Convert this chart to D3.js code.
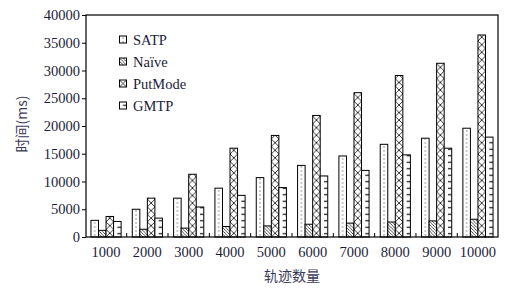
<!DOCTYPE html>
<html><head><meta charset="utf-8">
<script src="https://cdn.jsdelivr.net/npm/d3@7"></script>
<style>body{margin:0;background:#fff;} svg{display:block;}</style>
</head><body>
<script>
const categories = ["1000","2000","3000","4000","5000","6000","7000","8000","9000","10000"];
const seriesNames = ["SATP","Naïve","PutMode","GMTP"];
const satp    = [3000,5000,7000,8800,10700,12900,14600,16700,17800,19600];
const naive   = [1200,1400,1600,1900,2000,2300,2500,2700,2900,3200];
const putmode = [3700,7000,11300,16000,18300,21900,26000,29100,31300,36400];
const gmtp    = [2800,3400,5400,7500,8900,11000,12000,14800,16000,18000];
const yTicks  = [0,5000,10000,15000,20000,25000,30000,35000,40000];
const xLabel = "轨迹数量";
const yLabel = "时间(ms)";

const W = 508, H = 288;
const L = 86, R = 498, T = 15, B = 237;
const svg = d3.select("body").append("svg").attr("width", W).attr("height", H);
const defs = svg.append("defs");
const font = "'Liberation Serif','Times New Roman',serif";
const cjk = "'Noto Sans CJK SC','Liberation Serif',sans-serif";
const txtColor = "#1c1c3a";

const x0 = d3.scaleBand().domain(categories).range([L, R]).paddingInner(0.27).paddingOuter(0.12);
const x1 = d3.scaleBand().domain(seriesNames).range([0, x0.bandwidth()]);
const y = d3.scaleLinear().domain([0, 40000]).range([B, T]);

const allSeries = [satp, naive, putmode, gmtp];
const bars = [];
categories.forEach((c, i) => {
  seriesNames.forEach((s, k) => {
    bars.push({cat: c, ser: s, k, i, v: allSeries[k][i]});
  });
});

// pattern builder
function makePattern(id, k, px, py, w) {
  const p = defs.append("pattern").attr("id", id).attr("patternUnits", "userSpaceOnUse");
  if (k === 0) {
    p.attr("x", px).attr("y", py).attr("width", w).attr("height", 4);
    p.append("rect").attr("width", w).attr("height", 4).attr("fill", "#fff");
    p.append("rect").attr("x", w/2 - 0.5).attr("y", 1.5).attr("width", 1).attr("height", 1).attr("fill", "#333");
  } else if (k === 1) {
    const s = 3.2;
    p.attr("x", px).attr("y", py).attr("width", s).attr("height", s);
    p.append("rect").attr("width", s).attr("height", s).attr("fill", "#fff");
    p.append("path").attr("d", `M0,0L${s},${s}M${-s/2},${s/2}L${s/2},${s*1.5}M${s/2},${-s/2}L${s*1.5},${s/2}`)
      .attr("stroke", "#222").attr("stroke-width", 0.8);
  } else if (k === 2) {
    p.attr("x", px).attr("y", py).attr("width", w).attr("height", w);
    p.append("rect").attr("width", w).attr("height", w).attr("fill", "#fff");
    p.append("path").attr("d", `M0,0L${w},${w}M${w},0L0,${w}`)
      .attr("stroke", "#222").attr("stroke-width", 0.9);
  } else {
    const h = 6.5;
    p.attr("x", px).attr("y", py).attr("width", w).attr("height", h);
    p.append("rect").attr("width", w).attr("height", h).attr("fill", "#fff");
    p.append("line").attr("x1", w/2).attr("x2", w).attr("y1", h/2).attr("y2", h/2)
      .attr("stroke", "#111").attr("stroke-width", 1.2);
  }
}

bars.forEach(b => {
  b.x = x0(b.cat) + x1(b.ser);
  b.w = x1.bandwidth();
  b.id = `p${b.k}_${b.i}`;
  makePattern(b.id, b.k, b.x, B, b.w);
});

svg.append("g").selectAll("rect").data(bars).join("rect")
  .attr("x", d => d.x).attr("y", d => y(d.v))
  .attr("width", d => d.w).attr("height", d => B - y(d.v))
  .attr("fill", d => `url(#${d.id})`)
  .attr("stroke", "#000").attr("stroke-width", 1);

// frame
svg.append("rect").attr("x", L).attr("y", T).attr("width", R - L).attr("height", B - T)
  .attr("fill", "none").attr("stroke", "#000").attr("stroke-width", 1.2);

// y axis
const yAxis = svg.append("g").attr("transform", `translate(${L},0)`)
  .call(d3.axisLeft(y).tickValues(yTicks).tickSize(4).tickPadding(2).tickFormat(d3.format("d")));
yAxis.select(".domain").remove();
yAxis.selectAll("line").attr("stroke", "#000");
yAxis.selectAll("text").attr("font-family", font).attr("font-size", 14.5).attr("fill", txtColor);

// x axis ticks between groups (inward)
const bounds = d3.range(1, categories.length).map(i => L + i * x0.step() - x0.step()*0 + (x0(categories[0]) - L) - x0.paddingInner()*x0.step()/2);
svg.append("g").selectAll("line").data(bounds).join("line")
  .attr("x1", d => d).attr("x2", d => d).attr("y1", B).attr("y2", B - 4)
  .attr("stroke", "#000");
svg.append("g").selectAll("text").data(categories).join("text")
  .attr("x", d => x0(d) + x0.bandwidth()/2).attr("y", 257)
  .attr("text-anchor", "middle").attr("font-family", font).attr("font-size", 14.5).attr("fill", txtColor)
  .text(d => d);

// axis titles
svg.append("text").attr("x", (L + R)/2).attr("y", 281).attr("text-anchor", "middle")
  .attr("font-family", cjk).attr("font-size", 14).attr("fill", "#3a3a5a").text(xLabel);
svg.append("text").attr("transform", "translate(27,124) rotate(-90)").attr("text-anchor", "middle")
  .attr("font-family", cjk).attr("font-size", 14).attr("fill", "#3a3a5a").text(yLabel);

// legend
const lg = svg.append("g");
seriesNames.forEach((s, k) => {
  const cy = 39.5 + k * 22;
  const id = `lg${k}`;
  makePattern(id, k, 119.5, cy - 3.5, 7);
  lg.append("rect").attr("x", 119.5).attr("y", cy - 3.5).attr("width", 7).attr("height", 7)
    .attr("fill", `url(#${id})`).attr("stroke", "#000").attr("stroke-width", 1);
  lg.append("text").attr("x", 133).attr("y", cy).attr("dy", "0.35em")
    .attr("font-family", font).attr("font-size", 14.5).attr("fill", txtColor).text(s);
});
</script>
</body></html>
